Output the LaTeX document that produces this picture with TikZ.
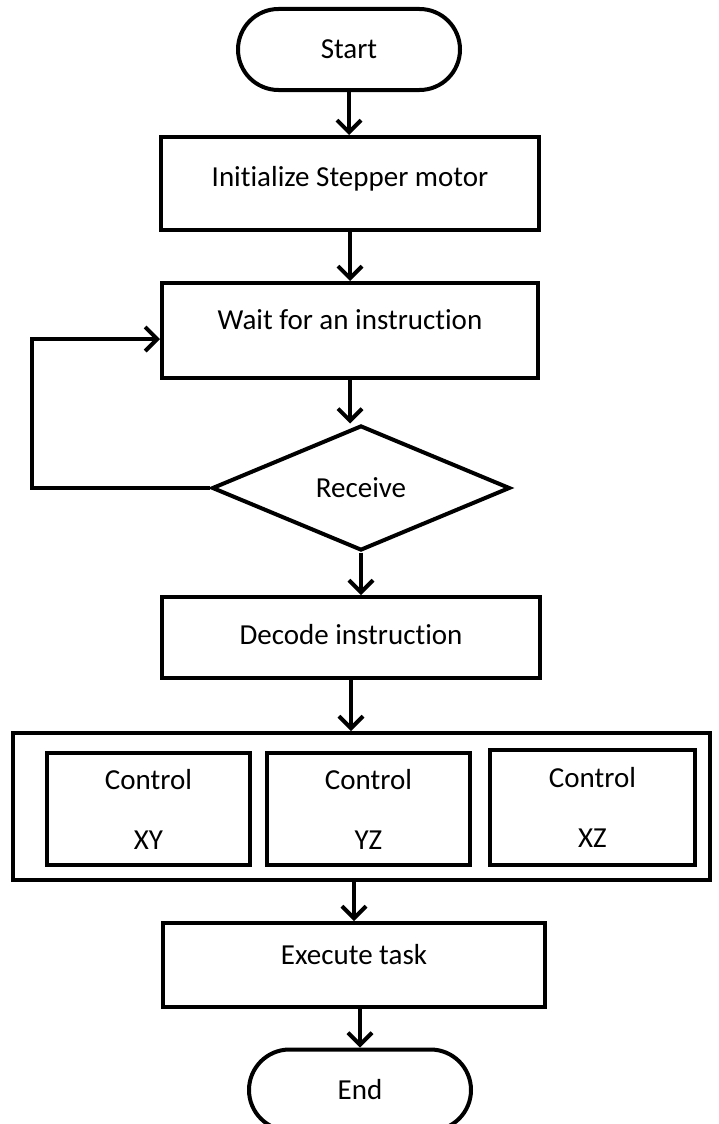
\documentclass[tikz,border=0pt]{standalone}
\usepackage{fontspec}
\setmainfont{Carlito}[Ligatures=CommonOff]
\usetikzlibrary{shapes.geometric, shapes.misc, arrows.meta}

\begin{document}
\begin{tikzpicture}[x=1pt, y=-1pt,
    every node/.style={font=\fontsize{29}{35}\selectfont},
    box/.style={draw, line width=4pt, rectangle, inner sep=0pt},
    term/.style={draw, line width=4pt, rounded rectangle, inner sep=0pt,
        minimum width=222pt, minimum height=81pt},
    arr/.style={line width=4pt, -{Straight Barb[length=12pt, width=24pt]}}]
    % Page size
    \useasboundingbox (0,0) rectangle (718,1124);

    % Main column
    \node[term] (start) at (349,49.5) {Start};
    \node[box, minimum width=378pt, minimum height=93pt, text depth=14pt] (init) at (350,183.5) {Initialize Stepper motor};
    \node[box, minimum width=376pt, minimum height=95pt, text depth=22pt] (wait) at (350,330.5) {Wait for an instruction};
    \node[draw, line width=4pt, diamond, inner sep=0pt, aspect=2.4,
        minimum width=298pt, minimum height=125pt] (recv) at (361,488) {Receive};
    \node[box, minimum width=378pt, minimum height=81pt, text depth=6pt] (decode) at (351,637.5) {Decode instruction};

    % Control boxes
    \node[box, minimum width=697pt, minimum height=147pt] (ctrl) at (361.5,806.5) {};
    \node[box, minimum width=203pt, minimum height=112pt, align=center] (xy) at (148.5,809) {Control\\[25pt]XY};
    \node[box, minimum width=203pt, minimum height=112pt, align=center] (yz) at (368.5,809) {Control\\[25pt]YZ};
    \node[box, minimum width=205pt, minimum height=115pt, align=center] (xz) at (592.5,807.5) {Control\\[25pt]XZ};

    \node[box, minimum width=382pt, minimum height=84pt, text depth=22pt] (exec) at (354,965) {Execute task};
    \node[term] (end) at (360,1090) {End};

    % Arrows
    \draw[arr] (start.south) -- (start.south |- init.north);
    \draw[arr] (init.south) -- (init.south |- wait.north);
    \draw[arr] (wait.south) -- (wait.south |- recv.north);
    \draw[arr] (recv.south) -- (recv.south |- decode.north);
    \draw[arr] (decode.south) -- (decode.south |- ctrl.north);
    \draw[arr] (exec.north |- ctrl.south) -- (exec.north);
    \draw[arr] (end.north |- exec.south) -- (end.north);

    % Loop back
    \coordinate (back) at (32,488);
    \draw[arr] (recv.west) -- (back) |- ([yshift=-8.5pt]wait.west);
\end{tikzpicture}
\end{document}
